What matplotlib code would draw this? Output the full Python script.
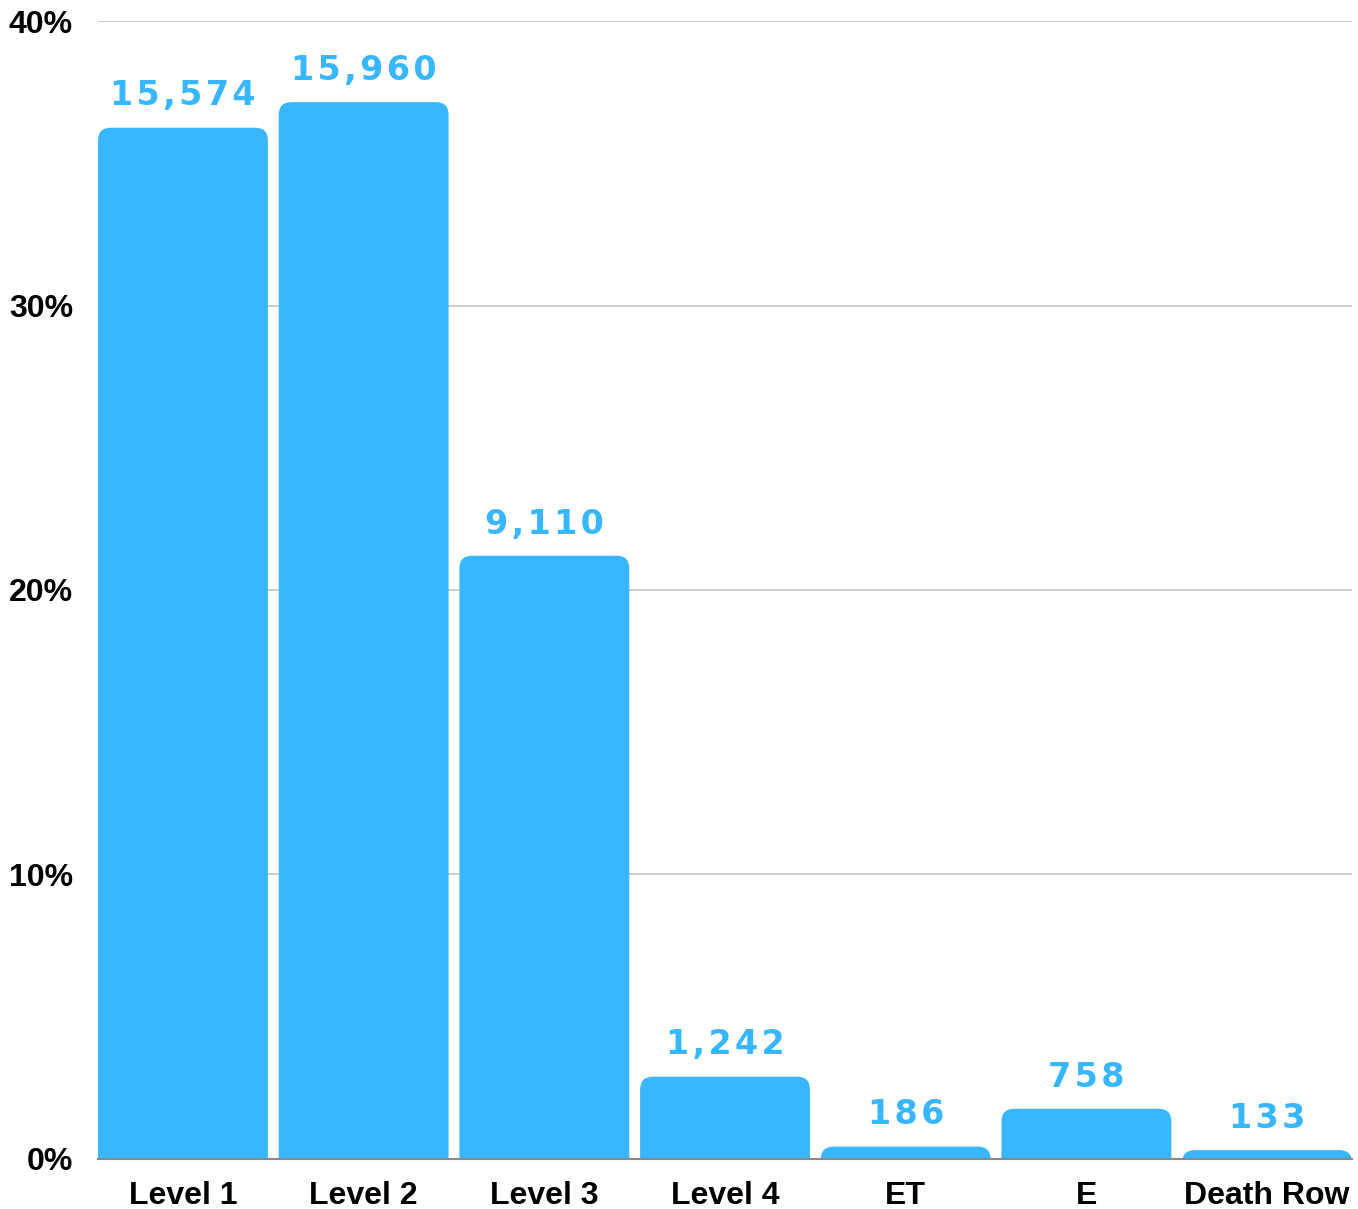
import matplotlib
matplotlib.use("Agg")
import matplotlib.pyplot as plt
from matplotlib.patches import FancyBboxPatch
from matplotlib.ticker import FuncFormatter

# data
categories = ['Level 1', 'Level 2', 'Level 3', 'Level 4', 'ET', 'E', 'Death Row']
counts = [15574, 15960, 9110, 1242, 186, 758, 133]
total = sum(counts)
shares = [c / total * 100 for c in counts]

blue = '#38B6FF'
width = 0.94

fig = plt.figure(figsize=(13.58, 12.09), dpi=100)
ax = fig.add_axes([0.0722, 0.0414, 0.9234, 0.9412])

bars = ax.bar(range(len(categories)), shares, width=width, color=blue, zorder=2)

# rounded tops: swap each bar for a rounded patch with the same geometry
for b in bars:
    x, y, w, h = b.get_x(), b.get_y(), b.get_width(), b.get_height()
    b.set_visible(False)
    r = 0.07
    ry = 0.45
    p = FancyBboxPatch((x, y - ry), w, h + ry,
                       boxstyle='round,pad=0,rounding_size=%f' % r,
                       mutation_aspect=ry / r,
                       facecolor=blue, edgecolor='none', zorder=2, clip_on=True)
    ax.add_patch(p)

# value labels, spread out a little with hair spaces
for i, (s, c) in enumerate(zip(shares, counts)):
    txt = '\u200a'.join('{:,}'.format(c))
    ax.annotate(txt, (i, s), xytext=(0, 16), textcoords='offset points',
                ha='center', va='baseline', color=blue, fontsize=24,
                fontweight='bold', family='DejaVu Sans')

ax.set_xlim(-width / 2, len(categories) - 1 + width / 2)
ax.set_ylim(0, 40)
ax.set_yticks([0, 10, 20, 30, 40])
ax.yaxis.set_major_formatter(FuncFormatter(lambda v, p: '%d%%' % v))
ax.set_xticks(range(len(categories)))
ax.set_xticklabels(categories)

for lab in ax.get_xticklabels() + ax.get_yticklabels():
    lab.set_family('Liberation Sans')
    lab.set_fontweight('bold')
    lab.set_fontsize(23)

ax.tick_params(axis='y', length=0, pad=18)
ax.tick_params(axis='x', length=0, pad=16)
ax.grid(axis='y', color='#c8c8c8', linewidth=1.3, zorder=0)
ax.set_axisbelow(True)
for s in ['top', 'right', 'left']:
    ax.spines[s].set_visible(False)
ax.spines['bottom'].set_color('#888888')
ax.spines['bottom'].set_linewidth(1.5)
ax.spines['bottom'].set_zorder(3)

plt.savefig('out.png', dpi=100)
